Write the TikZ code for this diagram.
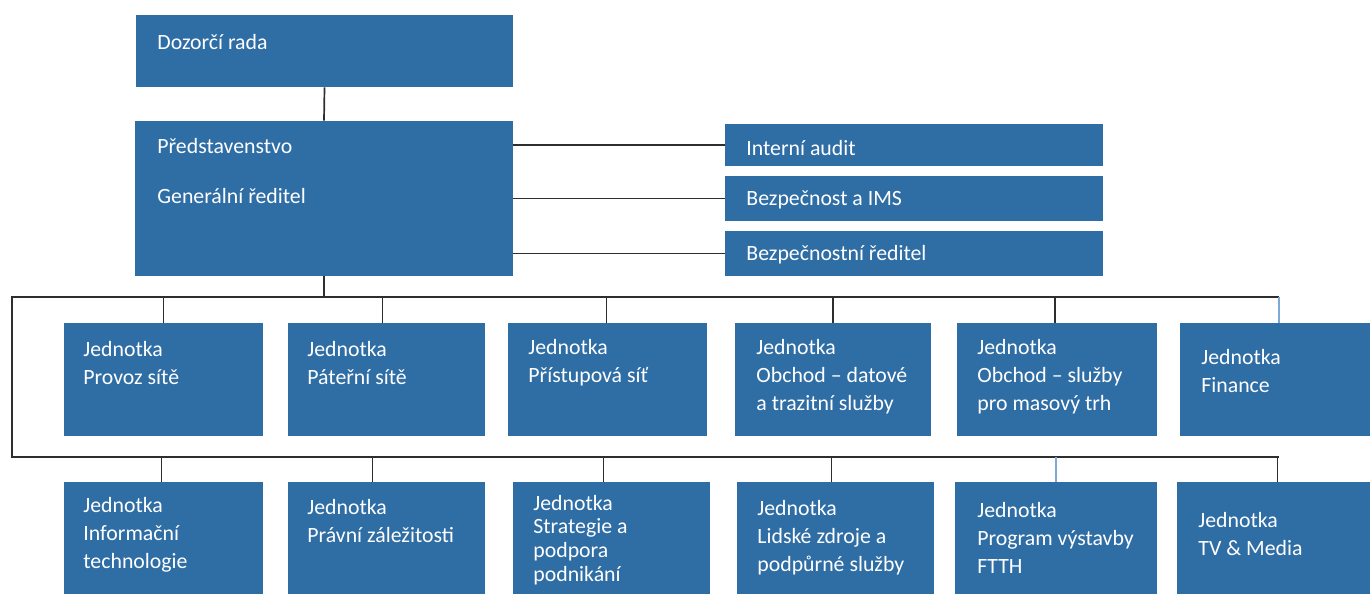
\documentclass[tikz,border=0pt]{standalone}
\usepackage{fontspec}
\setmainfont{Carlito}
\usetikzlibrary{fit}
\definecolor{boxblue}{HTML}{2F6DA5}
\definecolor{linegray}{HTML}{2E2E2E}
\definecolor{lineblue}{HTML}{7FA8D8}
\begin{document}
\begin{tikzpicture}[x=0.5pt,y=-0.5pt,
  box/.style={fill=boxblue, draw=none, inner sep=0pt},
  txt/.style={text=white, font=\fontsize{10.9}{14}\selectfont, align=left, inner sep=0pt, anchor=west},
  txtt/.style={txt, font=\fontsize{10.9}{11.9}\selectfont},
  conn/.style={draw=linegray, line width=0.85pt},
  connb/.style={draw=lineblue, line width=0.6pt}]
\useasboundingbox (0,0) rectangle (1370,594);
% top
\node[box, fit={(136,15)(513,87)}] (dr) {};
\node[txt] (drt) at (157,42) {Dozorčí rada};
\node[box, fit={(135,121)(513,276)}] (pr) {};
\node[txt] (prt1) at (157,146) {Představenstvo};
\node[txt] (prt2) at (157,196) {Generální ředitel};
\node[box, fit={(725,124)(1103,166)}] (ia) {};
\node[txt] (iat) at (746,148) {Interní audit};
\node[box, fit={(725,176)(1103,221)}] (bi) {};
\node[txt] (bit) at (746,200) {Bezpečnost a IMS};
\node[box, fit={(725,231)(1103,276)}] (br) {};
\node[txt] (brt) at (746,255) {Bezpečnostní ředitel};
% first row
\node[box, fit={(64,323)(263,436)}] (r1) {};
\node[txt] (r1t) at (83,363) {Jednotka\\Provoz sítě};
\node[box, fit={(288,323)(485,436)}] (r2) {};
\node[txt] (r2t) at (307,363) {Jednotka\\Páteřní sítě};
\node[box, fit={(508,323)(707,436)}] (r3) {};
\node[txt] (r3t) at (528,363) {Jednotka\\Přístupová síť};
\node[box, fit={(735,323)(931,436)}] (r4) {};
\node[txt] (r4t) at (756,377) {Jednotka\\Obchod – datové\\a trazitní služby};
\node[box, fit={(957,323)(1157,436)}] (r5) {};
\node[txt] (r5t) at (977,377) {Jednotka\\Obchod – služby\\pro masový trh};
\node[box, fit={(1180,323)(1370,436)}] (r6) {};
\node[txt] (r6t) at (1201,371) {Jednotka\\Finance};
% second row
\node[box, fit={(64,482)(263,594)}] (s1) {};
\node[txt] (s1t) at (83,535) {Jednotka\\Informační\\technologie};
\node[box, fit={(288,482)(485,594)}] (s2) {};
\node[txt] (s2t) at (307,521) {Jednotka\\Právní záležitosti};
\node[box, fit={(513,482)(710,594)}] (s3) {};
\node[txtt] (s3t) at (533,540) {Jednotka\\Strategie a\\podpora\\podnikání};
\node[box, fit={(737,482)(934,594)}] (s4) {};
\node[txt] (s4t) at (757,538) {Jednotka\\Lidské zdroje a\\podpůrné služby};
\node[box, fit={(955,482)(1157,594)}] (s5) {};
\node[txt] (s5t) at (977,538) {Jednotka\\Program výstavby\\FTTH};
\node[box, fit={(1177,482)(1370,594)}] (s6) {};
\node[txt] (s6t) at (1198,534) {Jednotka\\TV \& Media};
% connectors
\coordinate (tl) at (12,297);
\coordinate (tr) at (1279,297);
\coordinate (bl) at (12,457);
\coordinate (bre) at (1279,457);
\draw[conn] (dr.south) -- (pr.north);
\draw[conn] (pr.east |- ia.west) -- (ia.west);
\draw[conn] (pr.east |- bi.west) -- (bi.west);
\draw[conn] (pr.east |- br.west) -- (br.west);
\draw[conn] (pr.south) -- (pr.south |- tl);
\draw[conn] (tr) -- (tl) -- (bl) -- (bre);
\draw[conn] (r1.north) -- (r1.north |- tl);
\draw[conn] ([xshift=-2pt]r2.north) -- ([xshift=-2pt]r2.north |- tl);
\draw[conn] ([xshift=-0.5pt]r3.north) -- ([xshift=-0.5pt]r3.north |- tl);
\draw[conn] (r4.north) -- (r4.north |- tl);
\draw[conn] ([xshift=-1pt]r5.north) -- ([xshift=-1pt]r5.north |- tl);
\draw[connb] ([xshift=2pt]r6.north) -- ([xshift=2pt]r6.north |- tl);
\draw[conn] ([xshift=-1pt]s1.north) -- ([xshift=-1pt]s1.north |- bl);
\draw[conn] ([xshift=-7pt]s2.north) -- ([xshift=-7pt]s2.north |- bl);
\draw[conn] ([xshift=-4pt]s3.north) -- ([xshift=-4pt]s3.north |- bl);
\draw[conn] ([xshift=-2pt]s4.north) -- ([xshift=-2pt]s4.north |- bl);
\draw[connb] (s5.north) -- (s5.north |- bl);
\draw[conn] ([xshift=2pt]s6.north) -- ([xshift=2pt]s6.north |- bl);
\end{tikzpicture}
\end{document}
